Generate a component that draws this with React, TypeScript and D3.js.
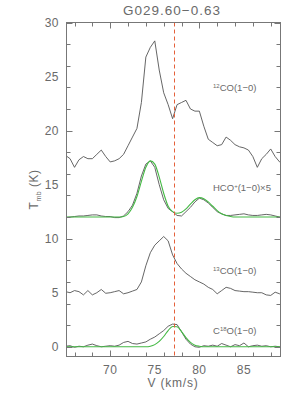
import React, { useEffect, useRef } from 'react';
import * as d3 from 'd3';

// channel velocities (km/s), shared by all spectra
const velocity = [
  65.0, 65.5, 66.0, 66.5, 67.0, 67.5, 68.0, 68.5, 69.0, 69.5,
  70.0, 70.5, 71.0, 71.5, 72.0, 72.5, 73.0, 73.5, 74.0, 74.5,
  75.0, 75.5, 76.0, 76.5, 77.0, 77.5, 78.0, 78.5, 79.0, 79.5,
  80.0, 80.5, 81.0, 81.5, 82.0, 82.5, 83.0, 83.5, 84.0, 84.5,
  85.0, 85.5, 86.0, 86.5, 87.0, 87.5, 88.0, 88.5, 89.0, 89.5,
];

// 12CO(1-0), offset spectrum
const co12 = [
  17.7, 17.4, 16.6, 17.3, 17.6, 17.4, 17.4, 17.8, 18.2, 17.6,
  17.1, 17.2, 17.4, 17.8, 18.6, 19.4, 20.2, 22.6, 26.8, 27.7,
  28.3, 25.6, 23.5, 22.4, 21.1, 22.4, 22.6, 22.8, 22.0, 21.8,
  21.8, 20.4, 19.2, 18.9, 18.6, 18.7, 19.4, 19.1, 18.7, 18.5,
  18.4, 18.2, 17.6, 16.6, 17.4, 17.8, 18.3, 17.6, 17.1, 17.1,
];

// HCO+(1-0) x5, offset spectrum
const hco = [
  11.95, 12.0, 12.05, 12.1, 12.1, 12.15, 12.2, 12.2, 12.1, 12.05,
  12.05, 11.95, 11.95, 12.1, 12.5, 13.1, 14.2, 15.8, 16.9, 17.2,
  16.6, 15.0, 13.6, 12.8, 12.5, 12.15, 12.1, 12.5, 12.9, 13.4,
  13.75, 13.6, 13.3, 12.9, 12.5, 12.3, 12.15, 12.15, 12.2, 12.25,
  12.3, 12.2, 12.15, 12.15, 12.2, 12.25, 12.2, 12.1, 12.0, 12.0,
];

// two-component fit to HCO+
const hcoFit = [
  12.0, 12.0, 12.0, 12.0, 12.0, 12.0, 12.0, 12.0, 12.0, 12.0,
  12.0, 12.0, 12.0, 12.05, 12.3, 12.9, 13.9, 15.3, 16.6, 17.2,
  16.9, 15.7, 14.2, 13.0, 12.5, 12.35, 12.45, 12.75, 13.2, 13.6,
  13.8, 13.7, 13.4, 13.0, 12.6, 12.3, 12.15, 12.05, 12.0, 12.0,
  12.0, 12.0, 12.0, 12.0, 12.0, 12.0, 12.0, 12.0, 12.0, 12.0,
];

// 13CO(1-0), offset spectrum
const co13 = [
  5.1, 5.0, 5.2, 5.1, 4.8, 5.2, 4.8, 5.0, 5.3, 4.95,
  5.0, 5.1, 5.2, 4.9, 5.0, 5.15, 5.3, 6.0, 7.5, 8.7,
  9.4, 9.8, 10.2, 9.8, 8.5, 7.7, 7.2, 6.8, 6.5, 6.2,
  6.0, 5.8, 5.5, 5.3, 4.9, 5.2, 5.5, 5.4, 5.2, 5.15,
  5.1, 5.1, 5.05, 5.0, 5.0, 4.8, 4.75, 5.05, 4.9, 4.9,
];

// C18O(1-0)
const c18o = [
  0.05, 0.1, -0.05, 0.05, 0.0, 0.15, 0.25, 0.1, 0.0, 0.05,
  0.1, 0.05, 0.15, 0.4, 0.5, 0.3, 0.25, 0.35, 0.45, 0.7,
  0.9, 1.2, 1.5, 1.9, 2.1, 2.05, 1.4, 0.7, 0.25, 0.0,
  -0.05, 0.1, 0.05, 0.15, 0.05, 0.3, 0.15, 0.0, 0.2, 0.1,
  0.35, 0.0, 0.1, 0.15, 0.05, 0.1, 0.0, 0.05, 0.0, 0.0,
];

// gaussian fit to C18O
const c18oFit = [
  0, 0, 0, 0, 0, 0, 0, 0, 0, 0,
  0, 0, 0, 0, 0, 0, 0, 0, 0, 0.05,
  0.2, 0.5, 0.95, 1.5, 1.88, 1.85, 1.4, 0.85, 0.4, 0.15,
  0.05, 0, 0, 0, 0, 0, 0, 0, 0, 0,
  0, 0, 0, 0, 0, 0, 0, 0, 0, 0,
];

// label pieces: [before, superscript, after], placed at a T value
const lineLabels = [
  { parts: ['', '12', 'CO(1\u22120)'], y: 24.0 },
  { parts: ['HCO', '+', '(1\u22120)\u00d75'], y: 14.7 },
  { parts: ['', '13', 'CO(1\u22120)'], y: 7.1 },
  { parts: ['C', '18', 'O(1\u22120)'], y: 1.5 },
];

const systemicVelocity = 77.1;
const xTicks = [70, 75, 80, 85];
const yTicks = [0, 5, 10, 15, 20, 25, 30];

const App = () => {
  const chartRef = useRef<SVGSVGElement>(null);

  useEffect(() => {
    const svg = d3.select(chartRef.current);
    svg.selectAll('*').remove();

    const width = 300;
    const height = 399;
    const left = 66.5, right = 280.5, top = 22.5, bottom = 356.5;
    const axisColor = '#777';
    const textColor = '#6a6a6a';
    const font = 'Liberation Sans, Arial, sans-serif';

    const x = d3.scaleLinear().domain([65.1, 89.1]).range([left, right]);
    const y = d3.scaleLinear().domain([-0.9, 30]).range([bottom, top]);

    svg.attr('width', width).attr('height', height);

    svg.append('clipPath').attr('id', 'plot-clip')
      .append('rect')
      .attr('x', left).attr('y', top)
      .attr('width', right - left).attr('height', bottom - top);

    const plot = svg.append('g').attr('clip-path', 'url(#plot-clip)');

    const line = d3.line<number>()
      .x((d, i) => x(velocity[i]))
      .y((d) => y(d));

    const smooth = d3.line<number>()
      .x((d, i) => x(velocity[i]))
      .y((d) => y(d))
      .curve(d3.curveMonotoneX);

    // observed spectra
    [co12, hco, co13, c18o].forEach((spec) => {
      plot.append('path')
        .attr('d', line(spec))
        .attr('fill', 'none')
        .attr('stroke', '#555')
        .attr('stroke-width', 0.9);
    });

    // fits
    [hcoFit, c18oFit].forEach((fit) => {
      plot.append('path')
        .attr('d', smooth(fit))
        .attr('fill', 'none')
        .attr('stroke', '#44b944')
        .attr('stroke-width', 1.1);
    });

    // systemic velocity marker
    const vx = Math.round(x(systemicVelocity)) + 0.5;
    svg.append('line')
      .attr('x1', vx).attr('x2', vx)
      .attr('y1', top).attr('y2', bottom)
      .attr('stroke', '#e5603a')
      .attr('stroke-width', 1)
      .attr('stroke-dasharray', '4,3');

    // frame
    svg.append('rect')
      .attr('x', left).attr('y', top)
      .attr('width', right - left).attr('height', bottom - top)
      .attr('fill', 'none')
      .attr('stroke', axisColor)
      .attr('stroke-width', 1);

    // inward ticks on all four sides
    const ticks = svg.append('g').attr('stroke', axisColor).attr('stroke-width', 1);
    x.ticks(10).forEach((t) => {
      const len = t % 5 === 0 ? 6 : 4;
      const px = Math.round(x(t)) + 0.5;
      ticks.append('line').attr('x1', px).attr('x2', px).attr('y1', bottom).attr('y2', bottom - len);
      ticks.append('line').attr('x1', px).attr('x2', px).attr('y1', top).attr('y2', top + len);
    });
    y.ticks(12).filter((t) => t >= 0).forEach((t) => {
      const len = t % 5 === 0 ? 6 : 4;
      const py = Math.round(y(t)) + 0.5;
      ticks.append('line').attr('x1', left).attr('x2', left + len).attr('y1', py).attr('y2', py);
      ticks.append('line').attr('x1', right).attr('x2', right - len).attr('y1', py).attr('y2', py);
    });

    // tick labels
    svg.append('g').selectAll('text')
      .data(xTicks)
      .join('text')
      .attr('x', (d) => x(d))
      .attr('y', 374)
      .attr('text-anchor', 'middle')
      .attr('fill', textColor)
      .style('font-family', font)
      .style('font-size', '12px')
      .style('letter-spacing', '0.5px')
      .text((d) => d);

    svg.append('g').selectAll('text')
      .data(yTicks)
      .join('text')
      .attr('x', 59)
      .attr('y', (d) => y(d) + 4.5)
      .attr('text-anchor', 'end')
      .attr('fill', textColor)
      .style('font-family', font)
      .style('font-size', '12px')
      .style('letter-spacing', '0.5px')
      .text((d) => d);

    // title
    svg.append('text')
      .attr('x', 172).attr('y', 15)
      .attr('text-anchor', 'middle')
      .attr('fill', textColor)
      .style('font-family', font)
      .style('font-size', '13.5px')
      .style('letter-spacing', '1px')
      .text('G029.60\u22120.63');

    // axis titles
    svg.append('text')
      .attr('x', 173).attr('y', 387)
      .attr('text-anchor', 'middle')
      .attr('fill', textColor)
      .style('font-family', font)
      .style('font-size', '12px')
      .style('letter-spacing', '0.8px')
      .text('V (km/s)');

    const yTitle = svg.append('text')
      .attr('transform', `translate(38, ${(top + bottom) / 2}) rotate(-90)`)
      .attr('text-anchor', 'middle')
      .attr('fill', textColor)
      .style('font-family', font)
      .style('font-size', '12px')
      .style('letter-spacing', '0.5px');
    yTitle.append('tspan').text('T');
    yTitle.append('tspan').attr('dy', 2.5).style('font-size', '7px').text('mb');
    yTitle.append('tspan').attr('dy', -2.5).text(' (K)');

    // molecule labels
    lineLabels.forEach((lab) => {
      const [before, sup, after] = lab.parts;
      const t = svg.append('text')
        .attr('x', 213)
        .attr('y', y(lab.y) + 3.5)
        .attr('fill', textColor)
        .style('font-family', font)
        .style('font-size', '9.5px');
      if (before) t.append('tspan').text(before);
      t.append('tspan').attr('dy', -3).style('font-size', '6px').text(sup);
      t.append('tspan').attr('dy', 3).text(after);
    });
  }, []);

  return (
    <div style={{ position: 'absolute', left: 0, top: 0 }}>
      <svg ref={chartRef}></svg>
    </div>
  );
};

export default App;
